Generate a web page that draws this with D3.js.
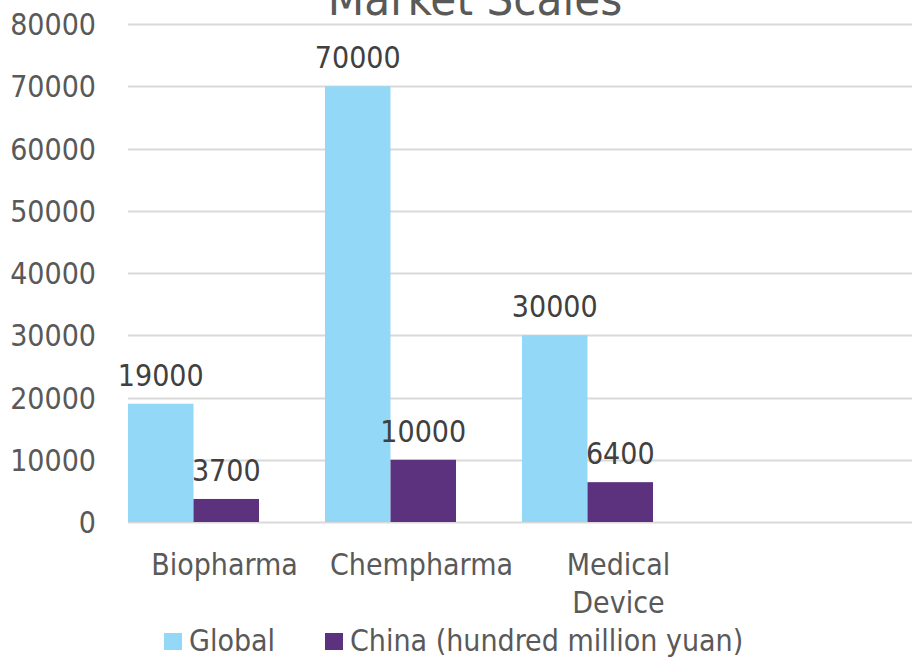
<!DOCTYPE html>
<html>
<head>
<meta charset="utf-8">
<script src="https://cdn.jsdelivr.net/npm/d3@7"></script>
<style>
  body { margin: 0; background: #fff; }
  svg text { font-family: "DejaVu Sans Condensed", "DejaVu Sans", sans-serif; }
</style>
</head>
<body>
<div id="chart"></div>
<script>
// Data
const categories = ['Biopharma', 'Chempharma', 'Medical Device', ''];
const seriesNames = ['Global', 'China (hundred million yuan)'];
const globalValues = [19000, 70000, 30000];
const chinaValues = [3700, 10000, 6400];
const yTicks = [0, 10000, 20000, 30000, 40000, 50000, 60000, 70000, 80000];
const colors = ['#93D8F6', '#5C327E'];

const width = 912, height = 657;
const margin = { top: 24, left: 128, bottom: 135 };

const svg = d3.select('#chart').append('svg')
    .attr('width', width)
    .attr('height', height);

const y = d3.scaleLinear()
    .domain([0, 80000])
    .range([height - margin.bottom, margin.top]);

// category slots
const x = d3.scaleBand()
    .domain(categories)
    .range([margin.left, margin.left + 4 * 197])
    .paddingInner(0);

// bars sit at the left of each slot
const xs = d3.scaleBand()
    .domain(seriesNames)
    .range([0, 131]);

// gridlines
svg.append('g')
    .selectAll('line')
    .data(yTicks)
    .join('line')
    .attr('x1', margin.left)
    .attr('x2', width)
    .attr('y1', d => Math.round(y(d)) + 0.5)
    .attr('y2', d => Math.round(y(d)) + 0.5)
    .attr('stroke', '#D9D9D9')
    .attr('stroke-width', 2);

// y tick labels
svg.append('g')
    .selectAll('text')
    .data(yTicks)
    .join('text')
    .attr('x', 96)
    .attr('y', d => y(d) + 11)
    .attr('text-anchor', 'end')
    .attr('font-size', 30)
    .attr('fill', '#595959')
    .text(d => d);

const rows = categories.slice(0, 3).map((c, i) => ({
    cat: c,
    vals: [globalValues[i], chinaValues[i]]
}));

const groups = svg.append('g')
    .selectAll('g')
    .data(rows)
    .join('g')
    .attr('transform', d => `translate(${x(d.cat)},0)`);

groups.selectAll('rect')
    .data(d => d.vals.map((v, j) => ({ name: seriesNames[j], v, j })))
    .join('rect')
    .attr('x', d => xs(d.name))
    .attr('width', xs.bandwidth())
    .attr('y', d => y(d.v))
    .attr('height', d => y(0) - y(d.v))
    .attr('fill', d => colors[d.j]);

// data labels
groups.selectAll('text.val')
    .data(d => d.vals.map((v, j) => ({ name: seriesNames[j], v, j })))
    .join('text')
    .attr('class', 'val')
    .attr('x', d => xs(d.name) + xs.bandwidth() / 2)
    .attr('y', d => y(d.v) - 18)
    .attr('text-anchor', 'middle')
    .attr('font-size', 30)
    .attr('fill', '#404040')
    .text(d => d.v);

// category labels
svg.append('g')
    .selectAll('text')
    .data(categories.slice(0, 3))
    .join('text')
    .attr('text-anchor', 'middle')
    .attr('font-size', 30)
    .attr('fill', '#595959')
    .each(function (d) {
        const words = d === 'Medical Device' ? ['Medical', 'Device'] : [d];
        const t = d3.select(this);
        words.forEach((w, i) => {
            t.append('tspan')
                .attr('x', x(d) + x.bandwidth() / 2 - 2)
                .attr('y', 575 + i * 38)
                .text(w);
        });
    });

// title
svg.append('text')
    .attr('x', 475)
    .attr('y', 15)
    .attr('text-anchor', 'middle')
    .attr('font-size', 47)
    .attr('fill', '#595959')
    .text('Market Scales');

// legend
const legendItems = [
    { name: seriesNames[0], color: colors[0], x: 164 },
    { name: seriesNames[1], color: colors[1], x: 325 }
];
const legend = svg.append('g')
    .selectAll('g')
    .data(legendItems)
    .join('g')
    .attr('transform', d => `translate(${d.x},633)`);

legend.append('rect')
    .attr('width', 18)
    .attr('height', 17)
    .attr('fill', d => d.color);

legend.append('text')
    .attr('x', 25)
    .attr('y', 18)
    .attr('font-size', 30)
    .attr('fill', '#595959')
    .text(d => d.name);
</script>
</body>
</html>
